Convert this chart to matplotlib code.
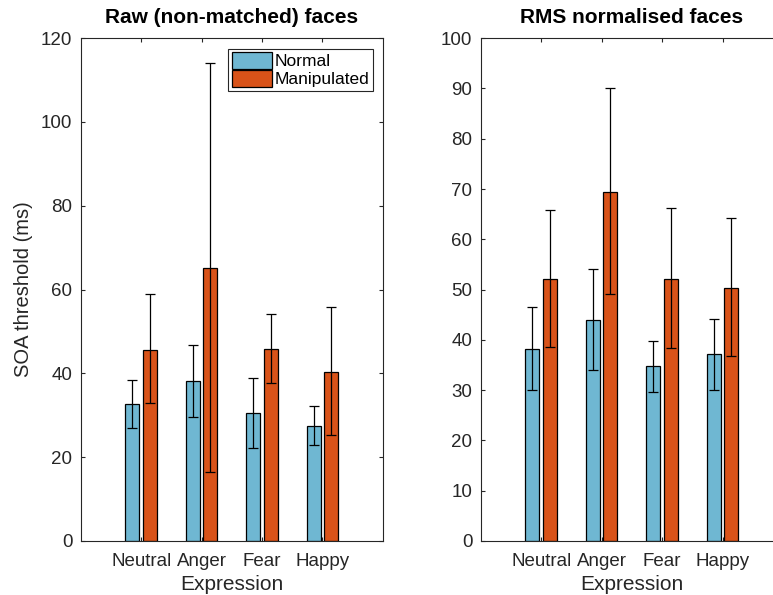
import matplotlib.pyplot as plt
import numpy as np

plt.rcParams['font.family'] = ['Liberation Sans', 'DejaVu Sans']

expressions = ['Neutral', 'Anger', 'Fear', 'Happy']
series_names = ['Normal', 'Manipulated']

# raw faces: bar heights and error bar ends (lower, upper)
raw_normal = [32.6, 38.2, 30.5, 27.5]
raw_normal_lo = [26.9, 29.6, 22.2, 22.9]
raw_normal_hi = [38.5, 46.7, 38.9, 32.1]
raw_manip = [45.7, 65.2, 45.9, 40.4]
raw_manip_lo = [33.0, 16.4, 37.8, 25.2]
raw_manip_hi = [59.0, 114.0, 54.2, 55.8]

# RMS normalised faces
rms_normal = [38.2, 44.0, 34.8, 37.2]
rms_normal_lo = [30.1, 34.1, 29.7, 30.1]
rms_normal_hi = [46.5, 54.0, 39.7, 44.2]
rms_manip = [52.2, 69.5, 52.2, 50.4]
rms_manip_lo = [38.5, 49.1, 38.3, 36.7]
rms_manip_hi = [65.9, 90.0, 66.2, 64.2]

blue = '#6fb7d2'
orange = '#d95319'
dark = '#262626'


def draw_panel(ax, normal, n_lo, n_hi, manip, m_lo, m_hi, title, ymax, ystep):
    x = np.arange(1, len(expressions) + 1)
    w = 0.23
    off = 0.145
    for vals, lo, hi, dx, col, name in [(normal, n_lo, n_hi, -off, blue, series_names[0]),
                                        (manip, m_lo, m_hi, off, orange, series_names[1])]:
        vals = np.array(vals)
        ax.bar(x + dx, vals, w, color=col, edgecolor='black', linewidth=0.9, label=name, zorder=2)
        yerr = [vals - np.array(lo), np.array(hi) - vals]
        ax.errorbar(x + dx, vals, yerr=yerr, fmt='none', ecolor='black',
                    elinewidth=0.9, capsize=3.3, capthick=0.9, zorder=3)
    ax.set_xlim(0, 5)
    ax.set_ylim(0, ymax)
    ax.set_xticks(x)
    ax.set_xticklabels(expressions)
    ax.set_yticks(np.arange(0, ymax + 1, ystep))
    ax.tick_params(direction='in', length=3, width=0.8, colors=dark, labelsize=13.5,
                   top=True, right=True, pad=6)
    ax.tick_params(axis='x', pad=9)
    for s in ax.spines.values():
        s.set_color(dark)
        s.set_linewidth(0.8)
    ax.set_title(title, fontsize=15, fontweight='bold', color='black', pad=11)
    ax.set_xlabel('Expression', fontsize=15, color=dark, labelpad=3)


fig = plt.figure(figsize=(7.73, 5.95), dpi=100)
ax1 = fig.add_axes([0.1044, 0.0908, 0.391, 0.845])
ax2 = fig.add_axes([0.6219, 0.0908, 0.391, 0.845])

draw_panel(ax1, raw_normal, raw_normal_lo, raw_normal_hi,
           raw_manip, raw_manip_lo, raw_manip_hi, 'Raw (non-matched) faces', 120, 20)
draw_panel(ax2, rms_normal, rms_normal_lo, rms_normal_hi,
           rms_manip, rms_manip_lo, rms_manip_hi, 'RMS normalised faces', 100, 10)

# right edge of the second panel falls outside the picture
ax2.spines['right'].set_visible(False)
ax2.tick_params(right=False)

ax1.set_ylabel('SOA threshold (ms)', fontsize=14.5, color=dark, labelpad=6)

leg = ax1.legend(loc='upper right', fontsize=12.5, frameon=True, fancybox=False,
                 framealpha=1, edgecolor=dark, borderaxespad=0.6, borderpad=0.2,
                 handlelength=2.3, handleheight=1.1, handletextpad=0.15,
                 labelspacing=0.05)
leg.get_frame().set_linewidth(0.8)

fig.savefig('out.png', dpi=100)
